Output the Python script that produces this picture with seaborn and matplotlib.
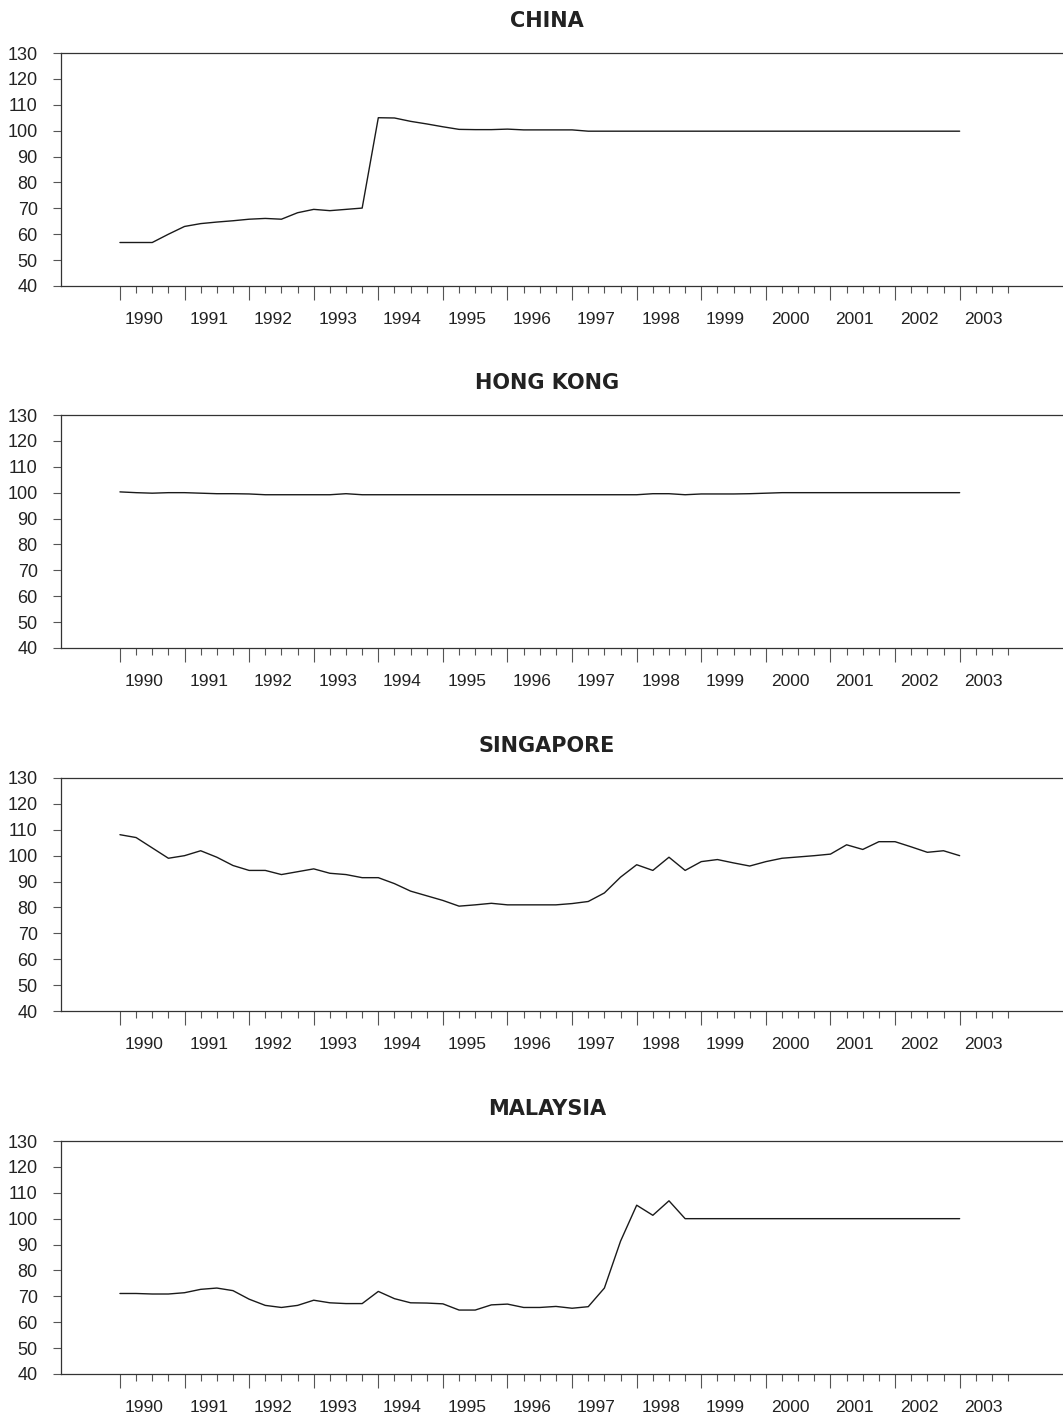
import pandas as pd
import matplotlib.pyplot as plt
import seaborn as sns

# quarterly index, 1990Q1 .. 2003Q1
quarters = list(range(53))
years = [str(y) for y in range(1990, 2004)]

china = [56.8, 56.8, 56.8, 60.0, 63.0, 64.1, 64.7, 65.2, 65.8, 66.1, 65.8, 68.3, 69.6, 69.1,
         69.6, 70.1, 105.0, 104.9, 103.6, 102.6, 101.5, 100.5, 100.4, 100.4, 100.6, 100.3,
         100.3, 100.3, 100.3] + [99.8] * 24
hong_kong = [100.3, 100.0, 99.8, 100.0, 100.0, 99.8, 99.6, 99.6, 99.5] + [99.2] * 5 + [99.6] \
    + [99.2] * 18 + [99.6, 99.6, 99.2, 99.5, 99.5, 99.5, 99.6, 99.8] + [100.0] * 12
singapore = [108.1, 107.0, 103.0, 99.0, 100.0, 101.9, 99.4, 96.2, 94.3, 94.3, 92.7, 93.8, 94.9,
             93.2, 92.7, 91.5, 91.5, 89.2, 86.3, 84.5, 82.7, 80.5, 81.0, 81.6, 81.0, 81.0,
             81.0, 81.0, 81.5, 82.3, 85.6, 91.7, 96.5, 94.3, 99.4, 94.3, 97.7, 98.5, 97.2,
             96.0, 97.7, 99.0, 99.5, 100.0, 100.6, 104.2, 102.4, 105.4, 105.4, 103.4, 101.3,
             101.9, 100.0]
malaysia = [71.1, 71.1, 70.9, 70.9, 71.4, 72.7, 73.2, 72.2, 68.9, 66.5, 65.7, 66.5, 68.5, 67.5,
            67.2, 67.2, 71.9, 69.1, 67.5, 67.4, 67.1, 64.7, 64.7, 66.7, 67.0, 65.7,
            65.7, 66.1, 65.4, 66.0, 73.2, 91.3, 105.2, 101.3, 106.9] + [100.0] * 18

panels = [("CHINA", china), ("HONG KONG", hong_kong), ("SINGAPORE", singapore), ("MALAYSIA", malaysia)]

sns.set_style("ticks")
plt.rcParams["font.family"] = ["Liberation Sans Narrow", "Liberation Sans", "DejaVu Sans"]

W, H = 1063, 1423
fig = plt.figure(figsize=(W / 100, H / 100), dpi=100)

tops = [53, 415, 778, 1141]
ax_h = 233
left = 61

year_ticks = list(range(0, 53, 4))
quarter_ticks = [q for q in range(56) if q not in year_ticks]
label_pos = [1.5 + 4 * k for k in range(len(years))]

for (name, vals), top in zip(panels, tops):
    ax = fig.add_axes([left / W, 1 - (top + ax_h) / H, 1 - left / W, ax_h / H])
    df = pd.DataFrame({"q": quarters, "value": vals})
    sns.lineplot(data=df, x="q", y="value", ax=ax, color="#1a1a1a", linewidth=1.0)

    ax.set_xlim(-3.65, 58.4)
    ax.set_ylim(40, 130)
    ax.set_yticks(range(40, 131, 10))
    ax.set_xlabel("")
    ax.set_ylabel("")

    ax.set_xticks(year_ticks)
    ax.set_xticks(quarter_ticks, minor=True)
    ax.set_xticklabels([])
    ax.tick_params(axis="x", which="major", length=10, width=0.8, color="#555555")
    ax.tick_params(axis="x", which="minor", length=5, width=0.8, color="#555555")
    ax.tick_params(axis="y", length=5.8, width=0.8, color="#555555", pad=11,
                   labelsize=13, labelcolor="#222222")

    sec = ax.secondary_xaxis("bottom")
    sec.set_xticks(label_pos, labels=years)
    sec.tick_params(length=0, pad=19, labelsize=12.5, labelcolor="#222222")
    sec.spines["bottom"].set_visible(False)

    for s in ["top", "left", "bottom"]:
        ax.spines[s].set_color("#333333")
        ax.spines[s].set_linewidth(0.9)
    ax.spines["right"].set_visible(False)

    ax.set_title(name, x=(547 - left) / 1002, pad=19, fontsize=15, fontweight="bold",
                 family=["DejaVu Sans"], color="#222222")

fig.savefig("out.png", dpi=100)
